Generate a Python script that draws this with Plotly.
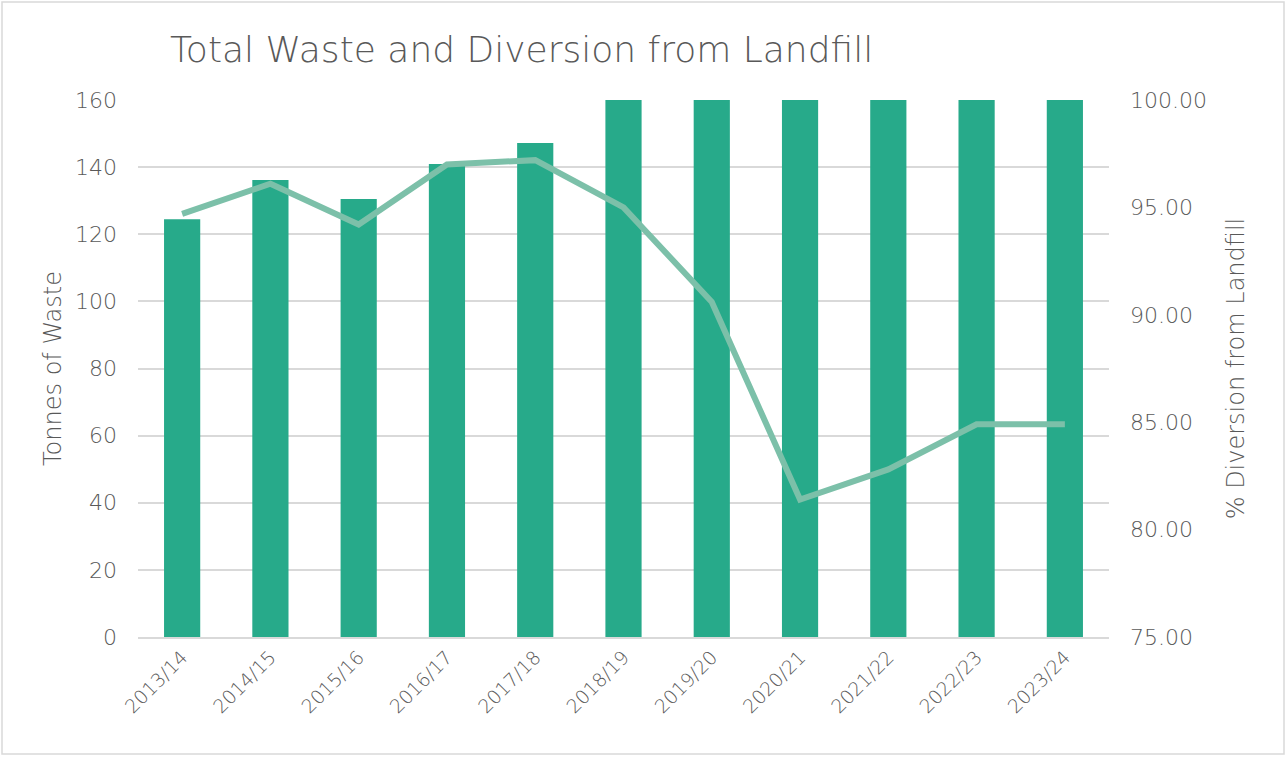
import plotly.graph_objects as go

years = ["2013/14", "2014/15", "2015/16", "2016/17", "2017/18", "2018/19",
         "2019/20", "2020/21", "2021/22", "2022/23", "2023/24"]
tonnes = [124.5, 136.2, 130.5, 140.9, 147.2, 171, 182, 188, 176, 193, 205]
diversion = [94.7, 96.1, 94.2, 97.0, 97.2, 95.0, 90.6, 81.4, 82.8, 84.9, 84.9]

FONT = "DejaVu Sans"
GREY = "#595959"

fig = go.Figure()
fig.add_trace(go.Bar(x=years, y=tonnes, marker_color="#27AA8A",
                     marker_line_width=0, name="Tonnes of Waste"))
fig.add_trace(go.Scatter(x=years, y=diversion, yaxis="y2", mode="lines",
                         line=dict(color="#7CC0A9", width=6),
                         name="% Diversion from Landfill"))

W, H = 1288, 758
ml, mr, mt, mb = 138, 179, 100, 121
pw, ph = W - ml - mr, H - mt - mb

fig.update_layout(
    width=W, height=H,
    margin=dict(l=ml, r=mr, t=mt, b=mb),
    paper_bgcolor="white", plot_bgcolor="white",
    showlegend=False,
    bargap=0.59,
    font=dict(family=FONT, color=GREY),
    title=dict(text="Total Waste and Diversion from Landfill",
               x=170 / W, xanchor="left", y=1 - 49 / H, yanchor="middle",
               font=dict(size=36, color=GREY, family=FONT, weight=200)),
    xaxis=dict(tickangle=-45, tickfont=dict(size=19, color=GREY, weight=200),
               showline=True, linecolor="#D9D9D9", linewidth=1.5,
               ticks="", showgrid=False),
    yaxis=dict(range=[0, 160], dtick=20, showgrid=True, gridcolor="#D9D9D9",
               gridwidth=1.5, zeroline=False, ticks="",
               ticklabelstandoff=20,
               tickfont=dict(size=22, color=GREY, weight=200),
               title=dict(text="Tonnes of Waste",
                          font=dict(size=24, color=GREY, weight=200),
                          standoff=6)),
    yaxis2=dict(range=[75, 100], dtick=5, overlaying="y", side="right",
                showgrid=False, zeroline=False, tickformat=".2f", ticks="",
                ticklabelstandoff=20,
                tickfont=dict(size=22, color=GREY, weight=200),
                title=dict(text="% Diversion from Landfill",
                           font=dict(size=24, color=GREY, weight=200),
                           standoff=21)),
    shapes=[dict(type="rect", xref="paper", yref="paper",
                 x0=(2 - ml) / pw, x1=(W - 4 - ml) / pw,
                 y0=(H - mb - (H - 4)) / ph, y1=(H - mb - 2) / ph,
                 line=dict(color="#D9D9D9", width=1.5), layer="below")],
)

fig.write_html("out.html", config={"displayModeBar": False},
               post_script="document.body.style.margin='0';")
